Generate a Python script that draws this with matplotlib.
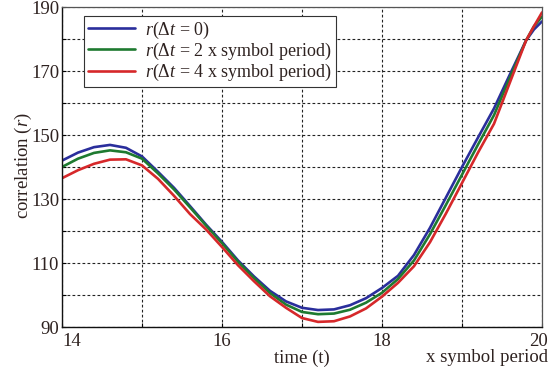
import matplotlib
matplotlib.use("Agg")
import matplotlib.pyplot as plt
import matplotlib.transforms as mtransforms

# time axis samples (x symbol period)
t = [14.0, 14.2, 14.4, 14.6, 14.8, 15.0, 15.2, 15.4, 15.6, 15.8,
     16.0, 16.2, 16.4, 16.6, 16.8, 17.0, 17.2, 17.4, 17.6, 17.8,
     18.0, 18.2, 18.4, 18.6, 18.8, 19.0, 19.2, 19.4, 19.6, 19.8,
     19.9, 20.0]

r_dt0 = [142.0, 144.5, 146.2, 146.9, 146.0, 143.3, 138.5, 133.5, 127.8, 122.0,
         116.6, 110.8, 105.8, 101.3, 98.0, 96.0, 95.3, 95.5, 96.8, 99.0,
         102.2, 106.0, 112.5, 121.0, 130.5, 140.0, 149.2, 158.3, 169.0, 179.5,
         183.0, 185.5]

r_dt2 = [140.0, 142.6, 144.4, 145.2, 144.6, 142.6, 138.0, 133.0, 127.4, 121.7,
         116.2, 110.4, 105.3, 100.6, 97.0, 94.7, 94.0, 94.2, 95.4, 97.6,
         100.7, 105.0, 110.8, 119.0, 128.2, 137.6, 147.0, 156.2, 168.0, 179.5,
         184.0, 187.0]

r_dt4 = [136.5, 139.0, 141.0, 142.3, 142.4, 140.5, 136.3, 131.0, 125.3, 120.5,
         115.0, 109.3, 104.3, 99.6, 96.0, 92.8, 91.6, 91.8, 93.3, 95.8,
         99.5, 103.8, 109.0, 116.5, 125.5, 135.0, 144.5, 153.5, 166.5, 179.5,
         184.0, 188.3]

labels = ["$r$(Δ$t$ = 0)",
          "$r$(Δ$t$ = 2 x symbol period)",
          "$r$(Δ$t$ = 4 x symbol period)"]
colors = ["#2a2e9c", "#1e7a30", "#d6282a"]

x_ticks = [14, 15, 16, 17, 18, 19, 20]
x_ticklabels = ["14", "", "16", "", "18", "", "20"]
y_ticks = [90, 100, 110, 120, 130, 140, 150, 160, 170, 180, 190]
y_ticklabels = ["90", "", "110", "", "130", "", "150", "", "170", "", "190"]

plt.rcParams["font.family"] = ["Liberation Serif", "DejaVu Serif"]
plt.rcParams["mathtext.fontset"] = "custom"
plt.rcParams["mathtext.rm"] = "Liberation Serif"
plt.rcParams["mathtext.it"] = "Liberation Serif:italic"

text_color = "#2e2220"
fs = 13.5

fig = plt.figure(figsize=(5.49, 3.72), dpi=100)
ax = fig.add_axes([62 / 549, 45 / 372, 480 / 549, 320 / 372])

for y, lab, c in zip([r_dt0, r_dt2, r_dt4], labels, colors):
    ax.plot(t, y, color=c, lw=1.9, label=lab, solid_capstyle="round",
            solid_joinstyle="round")

ax.set_xlim(14, 20)
ax.set_ylim(90, 190)
ax.set_xticks(x_ticks)
ax.set_xticklabels(x_ticklabels)
ax.set_yticks(y_ticks)
ax.set_yticklabels(y_ticklabels)
ax.tick_params(direction="in", length=3, width=0.8, labelsize=fs,
               labelcolor=text_color)
ax.tick_params(axis="x", pad=4)
ax.tick_params(axis="y", pad=2)
ax.grid(True, color="#222222", linestyle=(0, (2.5, 2)), lw=0.8)

xl = ax.get_xticklabels()
xl[0].set_ha("left")
xl[-1].set_transform(xl[-1].get_transform() +
                     mtransforms.ScaledTranslation(-4 / 100, 0, fig.dpi_scale_trans))

for side in ["left", "bottom"]:
    ax.spines[side].set_linewidth(1.0)
    ax.spines[side].set_color("#111111")
for side in ["top", "right"]:
    ax.spines[side].set_linewidth(0.9)
    ax.spines[side].set_color("#555555")

leg = ax.legend(loc="upper left", bbox_to_anchor=(0.046, 0.972), fontsize=13,
                handlelength=2.6, labelspacing=0.0, borderpad=0.2,
                handletextpad=0.6, fancybox=False, framealpha=1,
                borderaxespad=0)
leg.get_frame().set_edgecolor("#333333")
leg.get_frame().set_linewidth(0.8)
for txt in leg.get_texts():
    txt.set_color(text_color)

fig.text(23 / 549, 1 - 166 / 372, "correlation ($r$)", rotation=90,
         ha="center", va="center", fontsize=fs, color=text_color)
fig.text(302 / 549, 1 - 358 / 372, "time (t)", ha="center", va="center",
         fontsize=fs, color=text_color)
fig.text(548 / 549, 1 - 358 / 372, "x symbol period", ha="right", va="center",
         fontsize=fs, color=text_color)

fig.savefig("out.png", dpi=100)
